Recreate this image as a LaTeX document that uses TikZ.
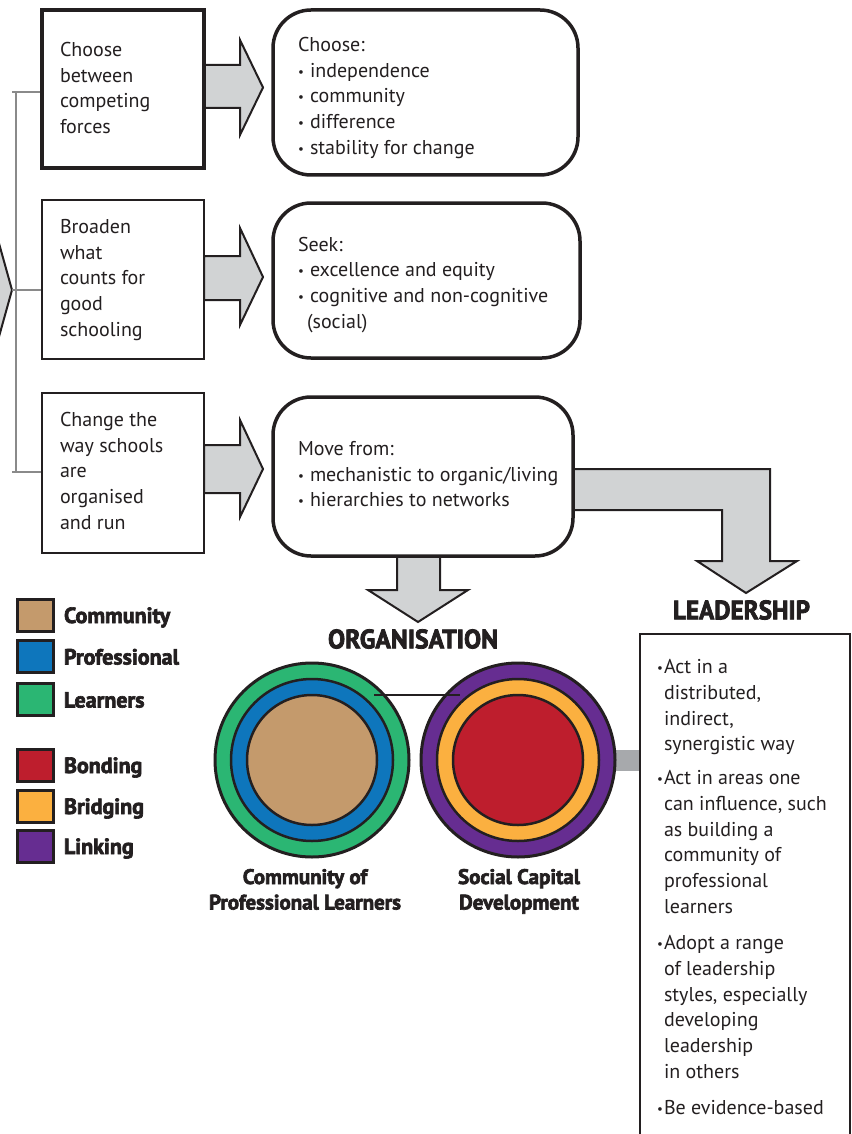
\documentclass[tikz,border=0pt]{standalone}
\usepackage{fontspec}
\setmainfont{PT Sans}
\newfontfamily\heavy{PT Sans}[BoldFeatures={FakeBold=3}]
\usetikzlibrary{calc,backgrounds}
\definecolor{ink}{HTML}{231F20}
\definecolor{agray}{HTML}{D1D3D4}
\definecolor{lgray}{HTML}{8A8A8A}
\definecolor{cgray}{HTML}{A7A9AC}
\definecolor{ctan}{HTML}{C49A6C}
\definecolor{cblue}{HTML}{0E76BC}
\definecolor{cgreen}{HTML}{2BB673}
\definecolor{cred}{HTML}{BE1E2D}
\definecolor{corange}{HTML}{FBB040}
\definecolor{cpurple}{HTML}{662D91}
\newcommand{\bl}{\makebox[12pt][l]{\raisebox{1pt}{\fontsize{13}{13}\selectfont\textbullet}}}
\newcommand{\lb}{\llap{\raisebox{1pt}{\fontsize{13}{13}\selectfont\textbullet}\hspace{1pt}}}
\begin{document}
\begin{tikzpicture}[x=1pt,y=-1pt,
  every node/.style={inner sep=0pt, outer sep=0pt},
  sqbox/.style={draw=ink, fill=white},
  rbox/.style={draw=ink, line width=3.5pt, rounded corners=38pt, fill=white},
  barrow/.style={draw=ink, fill=agray, line width=2pt, line join=miter},
  txt/.style={font=\fontsize{20}{25.7}\selectfont, text=ink, align=left, anchor=base west},
  heavytxt/.style={font=\heavy\bfseries\fontsize{22}{26}\selectfont, text=ink},
  swatch/.style={draw=ink, line width=3pt, minimum width=36pt, minimum height=32pt},
  ring/.style={circle, draw=ink, line width=3pt},
]
\useasboundingbox (0,0) rectangle (851,1134);

% left boxes
\node[sqbox, line width=3.5pt, minimum width=162pt, minimum height=158pt] (l1) at (123,89) {};
\node[sqbox, line width=2.5pt, minimum width=162pt, minimum height=159pt] (l2) at (123,279.5) {};
\node[sqbox, line width=2.5pt, minimum width=162pt, minimum height=160pt] (l3) at (123,473) {};

% rounded boxes
\node[rbox, minimum width=305pt, minimum height=165pt] (r1) at (425.5,92.5) {};
\node[rbox, minimum width=307pt, minimum height=155pt] (r2) at (426.5,280.5) {};
\node[rbox, minimum width=300pt, minimum height=159pt] (r3) at (423,476.5) {};

% leadership box
\node[draw=ink, line width=2.5pt, minimum width=210pt, minimum height=560pt, anchor=north west] (lead) at (640,634) {};

\begin{pgfonlayer}{background}
  % partial arrow at the left edge
  \draw[barrow] (-5,229) -- (12,290) -- (-5,351) -- cycle;
  % bracket
  \draw[lgray, line width=2.5pt] (16,92) -- (16,472);
  \draw[lgray, line width=2.5pt] (12,92) -- (l1.west |- 0,92);
  \draw[lgray, line width=2.5pt] (12,290) -- (l2.west |- 0,290);
  \draw[lgray, line width=2.5pt] (12,472) -- (l3.west |- 0,472);
  % block arrows
  \draw[barrow] (l1.east |- 0,65) -- (240,65) -- (240,40) -- (263,87.5) -- (240,135) -- (240,108) -- (l1.east |- 0,108) -- cycle;
  \draw[barrow] (l2.east |- 0,256) -- (240,256) -- (240,228) -- (263,277) -- (240,325) -- (240,300) -- (l2.east |- 0,300) -- cycle;
  \draw[barrow] (l3.east |- 0,445) -- (240,445) -- (240,420) -- (263,469) -- (240,517) -- (240,493) -- (l3.east |- 0,493) -- cycle;
  % organisation arrow
  \draw[barrow] (397,540) -- (397,590) -- (368,590) -- (418,622) -- (468,590) -- (440,590) -- (440,540) -- cycle;
  % leadership elbow arrow
  \draw[barrow] (560,469) -- (770,469) -- (770,561) -- (797,561) -- (746,593) -- (697,561) -- (722,561) -- (722,510) -- (560,510) -- cycle;
\end{pgfonlayer}

% texts in boxes (anchored at the baseline of their last line)
\node[txt] (t1) at (60,133.6) {Choose\\between\\competing\\forces};
\node[txt] (t2) at (60,336.3) {Broaden\\what\\counts for\\good\\schooling};
\node[txt] (t3) at (60,529.3) {Change the\\way schools\\are\\organised\\and run};
\node[txt] (ta) at (298,154.3) {Choose:\\\bl independence\\\bl community\\\bl difference\\\bl stability for change};
\node[txt] (tb) at (298,328.1) {Seek:\\\bl excellence and equity\\\bl cognitive and non-cognitive\\\hspace{9pt}(social)};
\node[txt] (tc) at (298,506.9) {Move from:\\\bl mechanistic to organic/living\\\bl hierarchies to networks};

% headers
\node[text=ink] (oh) at (413,639) {\resizebox{170pt}{19pt}{\heavy\bfseries ORGANISATION}};
\node[text=ink] (lh) at (741.5,610) {\resizebox{137pt}{19pt}{\heavy\bfseries LEADERSHIP}};

% legend
\node[swatch, fill=ctan] (s1) at (35,615) {};
\node[swatch, fill=cblue] (s2) at (35,656.5) {};
\node[swatch, fill=cgreen] (s3) at (35,699.5) {};
\node[swatch, fill=cred] (s4) at (35,765) {};
\node[swatch, fill=corange] (s5) at (35,806) {};
\node[swatch, fill=cpurple] (s6) at (35,846) {};
\node[heavytxt, anchor=base west] (k1) at (64,623) {Community};
\node[heavytxt, anchor=base west] (k2) at (64,664.5) {Professional};
\node[heavytxt, anchor=base west] (k3) at (64,707.5) {Learners};
\node[heavytxt, anchor=base west] (k4) at (64,773) {Bonding};
\node[heavytxt, anchor=base west] (k5) at (64,814) {Bridging};
\node[heavytxt, anchor=base west] (k6) at (64,854) {Linking};

% circles
\node[ring, fill=cgreen, minimum size=194pt] (c1o) at (312,760) {};
\node[ring, fill=cblue, minimum size=162pt, line width=2.5pt] (c1m) at (312,760) {};
\node[ring, fill=ctan, minimum size=130pt, line width=2.5pt] (c1i) at (312,760) {};
\node[ring, fill=cpurple, minimum size=194pt] (c2o) at (518,760) {};
\node[ring, fill=corange, minimum size=162pt, line width=2.5pt] (c2m) at (518,760) {};
\node[ring, fill=cred, minimum size=130pt, line width=2.5pt] (c2i) at (518,760) {};
\draw[ink, line width=2pt] ($(c1o.center)+(62,-65)$) -- ($(c2o.center)+(-58,-65)$);
\begin{pgfonlayer}{background}
  \draw[cgray, line width=21pt] (c2o.east) -- (c2o.east -| lead.west);
\end{pgfonlayer}

% circle labels
\node[heavytxt, font=\heavy\bfseries\fontsize{21}{25.5}\selectfont, align=center, anchor=base] (cl1) at (305,909.5) {Community of\\Professional Learners};
\node[heavytxt, font=\heavy\bfseries\fontsize{21}{25.5}\selectfont, align=center, anchor=base] (cl2) at (519,909.5) {Social Capital\\Development};

% leadership text
\node[txt, font=\fontsize{20}{25.8}\selectfont] (p1) at (664,750.9) {\lb Act in a\\distributed,\\indirect,\\synergistic way};
\node[txt, font=\fontsize{20}{25.8}\selectfont] (p2) at (664,913.5) {\lb Act in areas one\\can influence, such\\as building a\\community of\\professional\\learners};
\node[txt, font=\fontsize{20}{25.8}\selectfont] (p3) at (664,1078.5) {\lb Adopt a range\\of leadership\\styles, especially\\developing\\leadership\\in others};
\node[txt, font=\fontsize{20}{25.8}\selectfont] (p4) at (664,1114.5) {\lb Be evidence-based};
\end{tikzpicture}
\end{document}
